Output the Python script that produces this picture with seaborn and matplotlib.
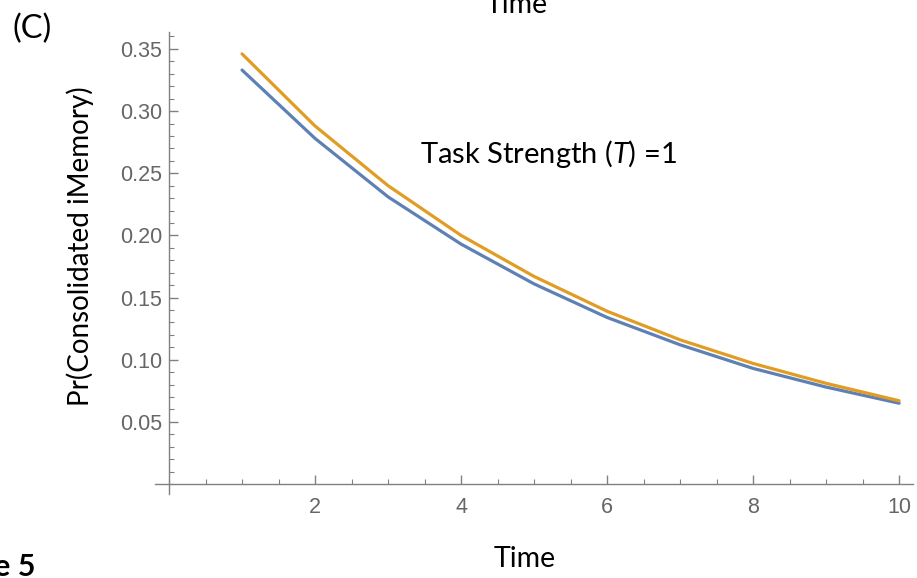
import numpy as np
import pandas as pd
import matplotlib
matplotlib.use("Agg")
import matplotlib.pyplot as plt
import seaborn as sns
from matplotlib.ticker import MultipleLocator

# ---- data ----
time = [1, 2, 3, 4, 5, 6, 7, 8, 9, 10]
series_a = [0.333, 0.278, 0.231, 0.193, 0.161, 0.134, 0.112, 0.093, 0.078, 0.065]
series_b = [0.346, 0.288, 0.240, 0.200, 0.167, 0.139, 0.116, 0.097, 0.081, 0.067]
series_names = ["A", "B"]
x_ticks = [2, 4, 6, 8, 10]
y_ticks = [0.05, 0.10, 0.15, 0.20, 0.25, 0.30, 0.35]
y_tick_labels = ["0.05", "0.10", "0.15", "0.20", "0.25", "0.30", "0.35"]

df = pd.DataFrame({
    "Time": time * 2,
    "Pr": series_a + series_b,
    "series": [series_names[0]] * len(time) + [series_names[1]] * len(time),
})

sns.set_style("white")
plt.rcParams["font.family"] = ["Liberation Sans", "DejaVu Sans"]
plt.rcParams["mathtext.fontset"] = "custom"
plt.rcParams["mathtext.rm"] = "Lato"
plt.rcParams["mathtext.it"] = "Lato:italic"

fig = plt.figure(figsize=(9.17, 5.78), dpi=100)
ax = fig.add_axes([155 / 917, 84 / 578, 758 / 917, 462 / 578])

palette = {"A": "#5E81B5", "B": "#E19C24"}
sns.lineplot(data=df, x="Time", y="Pr", hue="series", palette=palette,
             linewidth=2.3, ax=ax, legend=False)

ax.set_xlim(-0.192, 10.19)
ax.set_ylim(-0.008, 0.3636)

for s in ["top", "right"]:
    ax.spines[s].set_visible(False)
ax.spines["left"].set_position(("data", 0))
ax.spines["bottom"].set_position(("data", 0))
for s in ["left", "bottom"]:
    ax.spines[s].set_color("#808080")
    ax.spines[s].set_linewidth(1.0)

ax.set_xticks(x_ticks)
ax.set_yticks(y_ticks)
ax.set_yticklabels(y_tick_labels)
ax.xaxis.set_minor_locator(MultipleLocator(0.5))
ax.yaxis.set_minor_locator(MultipleLocator(0.01))
ax.tick_params(axis="both", which="both", bottom=True, left=True,
               top=False, right=False)
ax.tick_params(axis="both", which="major", direction="in", length=6.5, width=1.0,
               color="#808080", labelcolor="#666666", labelsize=15.5)
ax.tick_params(axis="both", which="minor", direction="in", length=3.8, width=0.8,
               color="#808080")
ax.tick_params(axis="y", which="major", pad=5)
ax.tick_params(axis="x", which="major", pad=9)
ax.set_xlabel("")
ax.set_ylabel("")

cal = ["Lato", "DejaVu Sans"]
fig.text(80 / 917, 1 - 246 / 578, "Pr(Consolidated iMemory)", rotation=90,
         ha="center", va="center", fontsize=20, family=cal, color="black")
fig.text(32 / 917, 1 - 29 / 578, "(C)", ha="center", va="center",
         fontsize=23.5, family=cal, color="black")
fig.text(517 / 917, 1 - 13 / 578, "Time", ha="center", va="baseline",
         fontsize=20.5, family=cal, color="black")
fig.text(548 / 917, 1 - 163 / 578, "Task Strength ($T$) =1", ha="center",
         va="baseline", fontsize=21, family=cal, color="black")
fig.text(525 / 917, 1 - 567 / 578, "Time", ha="center", va="baseline",
         fontsize=20.5, family=cal, color="black")
fig.text(36 / 917, 1 - 576 / 578, "e 5", ha="right", va="baseline",
         fontsize=22, family=cal, fontweight="bold", color="black")

fig.savefig("out.png", dpi=100, facecolor="white")
